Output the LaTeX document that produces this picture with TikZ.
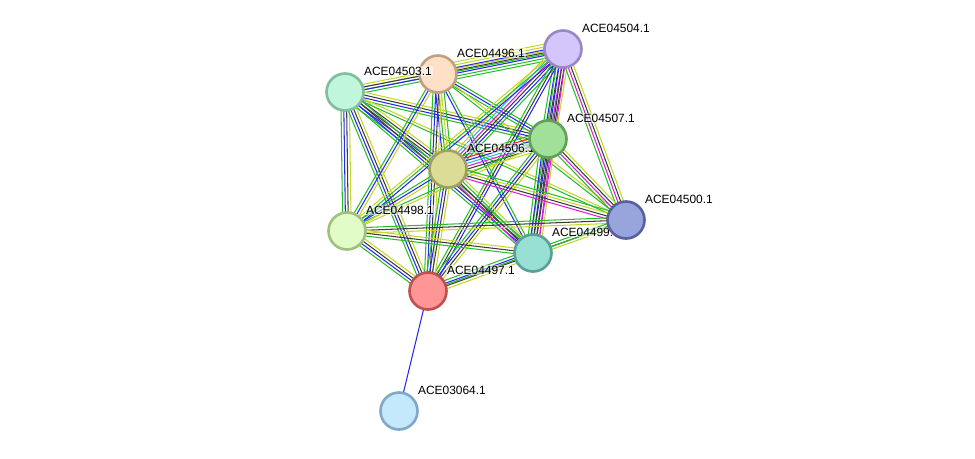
\documentclass[tikz,border=0pt]{standalone}
\usepackage{fontspec}
\setmainfont{Liberation Sans}
\usetikzlibrary{calc}
\pgfdeclarelayer{edges}
\pgfsetlayers{edges,main}
\definecolor{sgreen}{RGB}{40,190,40}
\definecolor{sblue}{RGB}{40,40,240}
\definecolor{sblack}{RGB}{60,60,60}
\definecolor{syellow}{RGB}{195,215,40}
\definecolor{smagenta}{RGB}{220,30,220}
\definecolor{scyan}{RGB}{40,190,220}
\definecolor{sred}{RGB}{240,30,30}
\tikzset{
  prot/.style={circle,draw,line width=1.5pt,minimum size=0.74cm,inner sep=0pt},
  lab/.style={anchor=west,inner sep=0.4pt,fill=white,fill opacity=0.5,text opacity=1,font=\fontsize{6.8}{8}\selectfont},
  lnkline/.style={line width=0.6pt}
}
% one link = a bundle of parallel coloured lines
\newcommand\lnk[3]{%
  \def\nl{0}%
  \foreach \c in {#3}{\xdef\nl{\the\numexpr\nl+1\relax}}%
  \foreach \c [count=\k] in {#3}{%
    \pgfmathsetmacro\off{(\k-(\nl+1)/2)*1.6}%
    \draw[\c,lnkline] ($(#1)!\off pt!90:(#2)$) -- ($(#2)!\off pt!-90:(#1)$);
  }%
}
\begin{document}
\begin{tikzpicture}[x=0.02cm,y=-0.02cm]
\useasboundingbox (0,0) rectangle (975,458);
% proteins, each followed by its label
\node[prot,draw={rgb,255:red,190;green,160;blue,130},fill={rgb,255:red,253;green,224;blue,197}] (n04496) at (438,74) {};
\node[lab] (t04496) at ($(n04496)+(18,-21)$) {ACE04496.1};
\node[prot,draw={rgb,255:red,128;green,190;blue,160},fill={rgb,255:red,192;green,246;blue,220}] (n04503) at (345,92) {};
\node[lab] (t04503) at ($(n04503)+(18,-21)$) {ACE04503.1};
\node[prot,draw={rgb,255:red,155;green,135;blue,200},fill={rgb,255:red,212;green,198;blue,250}] (n04504) at (563,49) {};
\node[lab] (t04504) at ($(n04504)+(18,-21)$) {ACE04504.1};
\node[prot,draw={rgb,255:red,160;green,160;blue,96},fill={rgb,255:red,220;green,220;blue,150}] (n04506) at (448,169) {};
\node[lab] (t04506) at ($(n04506)+(18,-21)$) {ACE04506.1};
\node[prot,draw={rgb,255:red,96;green,160;blue,88},fill={rgb,255:red,160;green,224;blue,152}] (n04507) at (548,139) {};
\node[lab] (t04507) at ($(n04507)+(18,-21)$) {ACE04507.1};
\node[prot,draw={rgb,255:red,160;green,192;blue,128},fill={rgb,255:red,226;green,252;blue,200}] (n04498) at (347,231) {};
\node[lab] (t04498) at ($(n04498)+(18,-21)$) {ACE04498.1};
\node[prot,draw={rgb,255:red,88;green,160;blue,152},fill={rgb,255:red,152;green,224;blue,212}] (n04499) at (533,253) {};
\node[lab] (t04499) at ($(n04499)+(18,-21)$) {ACE04499.1};
\node[prot,draw={rgb,255:red,88;green,96;blue,160},fill={rgb,255:red,152;green,164;blue,220}] (n04500) at (626,220) {};
\node[lab] (t04500) at ($(n04500)+(18,-21)$) {ACE04500.1};
\node[prot,draw={rgb,255:red,192;green,80;blue,80},fill={rgb,255:red,255;green,150;blue,150}] (n04497) at (428,291) {};
\node[lab] (t04497) at ($(n04497)+(18,-21)$) {ACE04497.1};
\node[prot,draw={rgb,255:red,128;green,168;blue,200},fill={rgb,255:red,196;green,232;blue,252}] (n03064) at (399,411) {};
\node[lab] (t03064) at ($(n03064)+(18,-21)$) {ACE03064.1};
% links
\begin{pgfonlayer}{edges}
\lnk{n04503}{n04504}{sgreen,syellow}
\lnk{n04496}{n04504}{sgreen,sgreen,sblue,sblack,sblue,syellow,syellow}
\lnk{n04503}{n04496}{sgreen,sblue,sblack,syellow}
\lnk{n04503}{n04507}{sgreen,sblue,sblack,syellow}
\lnk{n04503}{n04506}{sgreen,sblue,sblack,sblack,syellow}
\lnk{n04503}{n04500}{sgreen,syellow}
\lnk{n04503}{n04498}{sgreen,sblue,sblack,syellow}
\lnk{n04503}{n04499}{sgreen,sblue,sblack,sgreen}
\lnk{n04503}{n04497}{sgreen,sblue,sblack,syellow}
\lnk{n04496}{n04507}{sgreen,sblue,sgreen}
\lnk{n04496}{n04506}{sblue,sgreen,syellow,sgreen}
\lnk{n04496}{n04498}{sgreen,sblue,syellow}
\lnk{n04496}{n04497}{sgreen,sblue,sblack,syellow}
\lnk{n04496}{n04499}{sblue,sgreen}
\lnk{n04496}{n04500}{sgreen,syellow}
\lnk{n04504}{n04507}{sgreen,sblue,sblack,smagenta,sblack,syellow}
\lnk{n04504}{n04506}{syellow,scyan,smagenta,sblack,sblue,sgreen}
\lnk{n04504}{n04500}{sgreen,smagenta,sblack,syellow}
\lnk{n04504}{n04499}{sgreen,sblue,sblack,smagenta}
\lnk{n04504}{n04497}{sgreen,sblack,sblue}
\lnk{n04504}{n04498}{syellow,sgreen,sblue}
\lnk{n04507}{n04506}{sgreen,sred,sblue,scyan,smagenta,sblack,syellow}
\lnk{n04507}{n04500}{sgreen,smagenta,sblack,syellow}
\lnk{n04507}{n04499}{sgreen,sblue,sblack,sblack,smagenta,syellow}
\lnk{n04507}{n04497}{sgreen,sblue,sblack,syellow}
\lnk{n04507}{n04498}{sgreen,syellow}
\lnk{n04506}{n04500}{smagenta,sblack,syellow,sgreen}
\lnk{n04506}{n04498}{sgreen,sblue,syellow}
\lnk{n04506}{n04499}{smagenta,sblack,sgreen,syellow}
\lnk{n04506}{n04497}{sgreen,sblue,sblack,syellow}
\lnk{n04500}{n04498}{sgreen,sblack,syellow}
\lnk{n04500}{n04499}{sgreen,sblack,syellow}
\lnk{n04500}{n04497}{sgreen}
\lnk{n04498}{n04499}{sgreen,sblack,syellow}
\lnk{n04498}{n04497}{sgreen,sblue,sblack,syellow}
\lnk{n04499}{n04497}{sgreen,sblue,sblack,syellow}
\lnk{n04497}{n03064}{sblue}
\end{pgfonlayer}
\end{tikzpicture}
\end{document}
